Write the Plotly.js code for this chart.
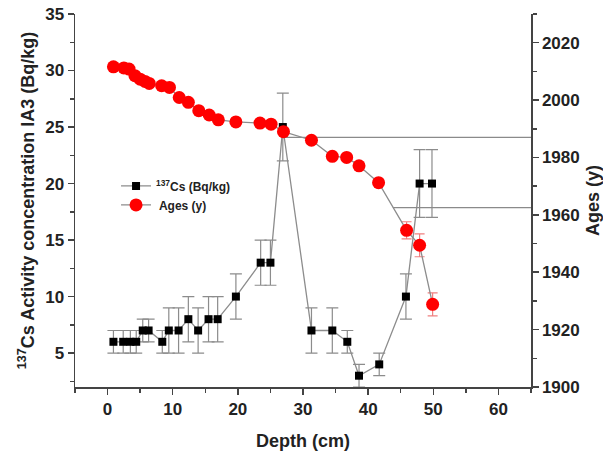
<!DOCTYPE html>
<html>
<head>
<meta charset="utf-8">
<script src="https://cdn.plot.ly/plotly-3.0.1.min.js"></script>
<style>html,body{margin:0;padding:0;background:#fff;}#chart{width:603px;height:452px;}</style>
</head>
<body>
<div id="chart"></div>
<script>
// 137Cs activity
var csDepth = [0.9, 2.4, 3.5, 4.4, 5.4, 6.3, 8.4, 9.4, 10.9, 12.4, 13.9, 15.5, 16.9, 19.7, 23.5, 25.0, 26.9, 31.3, 34.5, 36.8, 38.6, 41.7, 45.8, 47.9, 49.8];
var csValue = [6, 6, 6, 6, 7, 7, 6, 7, 7, 8, 7, 8, 8, 10, 13, 13, 25, 7, 7, 6, 3, 4, 10, 20, 20];
var csErr   = [1, 1, 1, 1, 1, 1, 1, 2, 2, 2, 2, 2, 2, 2, 2, 2, 3, 2, 2, 1, 1, 1, 2, 3, 3];

// Ages
var ageDepth = [0.9, 2.5, 3.3, 4.2, 5.0, 5.75, 6.4, 8.3, 9.5, 11.0, 12.4, 14.0, 15.6, 17.0, 19.7, 23.4, 25.1, 27.0, 31.3, 34.5, 36.7, 38.6, 41.6, 45.9, 47.9, 49.9];
var ageYear  = [2011.6, 2011.2, 2010.8, 2008.5, 2007.3, 2006.5, 2005.8, 2005.0, 2004.4, 2000.9, 1999.2, 1996.3, 1994.8, 1993.1, 1992.4, 1992.0, 1991.6, 1989.0, 1986.0, 1980.4, 1980.0, 1977.1, 1971.2, 1954.6, 1949.4, 1928.8];
var ageErr   = [0, 0, 0, 0, 0, 0, 0, 0, 0, 0, 0, 0, 0, 0, 0, 0, 0, 0, 0, 0, 0, 0, 0, 3, 4, 4];

// Reference horizontal markers (year, start depth)
var refYears = [1987, 1962.5];
var refStartDepth = [26.9, 43.8];
var depthMax = 65;

var fontFam = '"Liberation Sans", Arial, sans-serif';
var traces = [];

for (var i = 0; i < refYears.length; i++) {
  traces.push({
    x: [refStartDepth[i], depthMax], y: [refYears[i], refYears[i]],
    xaxis: 'x', yaxis: 'y2', mode: 'lines', showlegend: false, hoverinfo: 'skip',
    line: {color: '#8a8a8a', width: 1.3}
  });
}

traces.push({
  x: csDepth, y: csValue, name: '<sup>137</sup>Cs (Bq/kg)', mode: 'lines+markers',
  line: {color: '#8c8c8c', width: 1.3},
  marker: {symbol: 'square', size: 8, color: '#000'},
  error_y: {type: 'data', array: csErr, visible: true, color: '#8c8c8c', thickness: 1.2, width: 6}
});

traces.push({
  x: ageDepth, y: ageYear, name: ' Ages (y)', yaxis: 'y2', mode: 'lines+markers',
  line: {color: '#8c8c8c', width: 1.3},
  marker: {symbol: 'circle', size: 13, color: '#ff0000'},
  error_y: {type: 'data', array: ageErr, visible: true, color: '#f08080', thickness: 1.2, width: 5}
});

var axisCommon = {
  showgrid: false, zeroline: false, showline: true, linecolor: '#444', linewidth: 1.5,
  ticks: 'outside', ticklen: 6, tickwidth: 1.5, tickcolor: '#444',
  tickfont: {family: fontFam, size: 17, color: '#222', weight: 'bold'}
};
var titleFont = {family: fontFam, size: 18, color: '#222', weight: 'bold'};

var layout = {
  width: 603, height: 452,
  margin: {l: 75, r: 72, t: 14, b: 65},
  paper_bgcolor: '#fff', plot_bgcolor: '#fff',
  showlegend: true,
  legend: {x: 0.09, y: 0.578, xanchor: 'left', yanchor: 'top', bgcolor: 'rgba(0,0,0,0)',
           font: {family: fontFam, size: 12, color: '#222', weight: 'bold'}, tracegroupgap: 0},
  xaxis: Object.assign({}, axisCommon, {
    range: [-5, 65], tick0: 0, dtick: 10,
    minor: {dtick: 5, tick0: 0, ticks: 'outside', ticklen: 4, tickcolor: '#444'},
    title: {text: 'Depth (cm)', font: titleFont, standoff: 16}
  }),
  yaxis: Object.assign({}, axisCommon, {
    range: [2, 35], tick0: 0, dtick: 5,
    minor: {dtick: 2.5, tick0: 0, ticks: 'outside', ticklen: 4, tickcolor: '#444'},
    title: {text: '<sup>137</sup>Cs Activity concentration IA3 (Bq/kg)', font: titleFont, standoff: 6}
  }),
  yaxis2: Object.assign({}, axisCommon, {
    overlaying: 'y', side: 'right', range: [1900, 2030], tick0: 1900, dtick: 20,
    minor: {dtick: 10, tick0: 1900, ticks: 'outside', ticklen: 4, tickcolor: '#444'},
    title: {text: 'Ages (y)', font: titleFont, standoff: 10}
  })
};

Plotly.newPlot('chart', traces, layout, {displayModeBar: false, staticPlot: true});
</script>
</body>
</html>
